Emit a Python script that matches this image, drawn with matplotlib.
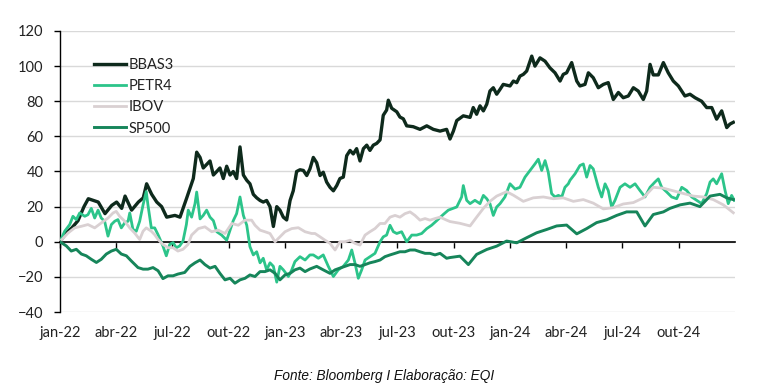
import matplotlib
matplotlib.use("Agg")
import matplotlib.pyplot as plt

# ---------------- data (x = months since Jan-2022, y = % return) ----------------
bbas3_m = [0.00, 0.32, 0.64, 0.96, 1.28, 1.51, 2.04, 2.40, 2.76, 3.02, 3.29, 3.47, 3.82, 4.18, 4.44, 4.62,
           4.89, 5.16, 5.42, 5.69, 6.13, 6.40, 6.76, 7.11, 7.29, 7.47, 7.64, 7.82, 8.00, 8.18, 8.36, 8.53,
           8.71, 8.89, 9.07, 9.24, 9.42, 9.60, 9.78, 9.96, 10.13, 10.31, 10.49, 10.67, 10.84, 11.02, 11.20,
           11.38, 11.56, 11.73, 11.91, 12.09, 12.27, 12.44, 12.62, 12.80, 12.98, 13.16, 13.33, 13.51, 13.69,
           13.87, 14.04, 14.22, 14.40, 14.58, 14.76, 14.93, 15.11, 15.29, 15.47, 15.64, 15.82, 16.00, 16.18,
           16.36, 16.53, 16.71, 16.89, 17.07, 17.24, 17.42, 17.51, 17.69, 17.96, 18.13, 18.31, 18.49, 18.84,
           19.20, 19.56, 19.91, 20.27, 20.62, 20.80, 20.98, 21.16, 21.51, 21.87, 22.04, 22.22, 22.40, 22.58,
           22.76, 22.93, 23.11, 23.29, 23.47, 23.64, 24.00, 24.18, 24.36, 24.53, 24.71, 24.89, 25.16, 25.33,
           25.60, 25.87, 26.13, 26.40, 26.67, 26.84, 27.02, 27.29, 27.56, 27.73, 28.00, 28.18, 28.44, 28.71,
           28.98, 29.24, 29.51, 29.78, 30.04, 30.31, 30.58, 30.84, 31.11, 31.29, 31.47, 31.64, 31.91, 32.18,
           32.44, 32.71, 32.98, 33.33, 33.60, 33.87, 34.22, 34.49, 34.76, 35.02, 35.29, 35.56, 35.73, 35.91]
bbas3 = [0, 5, 8, 12, 20, 24.5, 22.6, 16, 20.7, 22.6, 19, 26, 18, 22.6, 25, 33,
         27, 22.6, 20, 14, 15, 14, 25, 36, 51, 48, 42, 44, 46, 38, 40, 42,
         36, 43, 38, 40, 36, 54, 38, 35, 33, 27, 25, 23.5, 22.6, 23.5, 20,
         8.7, 20, 18, 14, 12.4, 23.5, 29, 40, 41, 40.6, 37.7, 41.5, 48, 45,
         37.7, 39.6, 34, 31, 29, 32, 36, 36.8, 49, 52, 50, 53, 46, 53,
         55, 52, 55, 56, 58, 72, 75, 80.6, 76, 74, 71, 70, 66, 65.5,
         64, 66, 64, 63, 64, 58.5, 63, 69, 71.7, 70.8, 76.4, 72.6, 77.4, 74.5,
         78.3, 85.8, 87.7, 84, 86.8, 89.6, 88.7, 91.5, 90.6, 94.3, 95.3, 97.2, 105.7, 100,
         104.7, 102.8, 99, 96.2, 91.5, 95.3, 96.2, 102, 91.5, 88.7, 89.6, 96.2, 93.4, 87.7,
         89.6, 90.6, 81, 85, 82, 83, 87.7, 85.8, 81, 85.8, 101, 95, 95, 102,
         96.2, 91.5, 88.7, 83, 84, 82, 80, 76.4, 76.4, 69.8, 74.5, 65, 67, 68]

petr4_m = [0.00, 0.25, 0.52, 0.69, 0.87, 1.05, 1.32, 1.49, 1.67, 1.85, 2.03, 2.20, 2.38, 2.56, 2.74, 2.92,
           3.09, 3.27, 3.45, 3.63, 3.72, 3.89, 4.07, 4.25, 4.43, 4.60, 4.69, 4.87, 5.05, 5.23, 5.49, 5.67,
           5.85, 6.03, 6.20, 6.38, 6.56, 6.74, 6.84, 7.02, 7.20, 7.29, 7.47, 7.64, 7.82, 8.00, 8.18, 8.36,
           8.62, 8.89, 9.07, 9.24, 9.42, 9.60, 9.78, 9.96, 10.13, 10.31, 10.49, 10.67, 10.84, 11.02, 11.20,
           11.38, 11.56, 11.73, 11.91, 12.18, 12.36, 12.53, 12.80, 13.07, 13.33, 13.51, 13.78, 14.04, 14.31,
           14.58, 14.84, 15.11, 15.38, 15.56, 15.73, 15.91, 16.09, 16.27, 16.53, 16.80, 17.07, 17.24, 17.42,
           17.60, 17.78, 17.96, 18.22, 18.49, 18.76, 19.02, 19.29, 19.56, 19.82, 20.09, 20.44, 20.71, 21.16,
           21.42, 21.51, 21.69, 21.87, 22.13, 22.40, 22.58, 22.76, 22.93, 23.11, 23.29, 23.47, 23.73, 24.00,
           24.27, 24.53, 24.80, 25.07, 25.33, 25.51, 25.69, 25.87, 26.04, 26.22, 26.40, 26.58, 26.76, 26.93,
           27.11, 27.20, 27.47, 27.73, 27.91, 28.09, 28.27, 28.44, 28.71, 28.89, 29.07, 29.24, 29.42, 29.60,
           29.87, 30.13, 30.40, 30.67, 30.93, 31.20, 31.47, 31.73, 31.91, 32.09, 32.36, 32.62, 32.89, 33.16,
           33.42, 33.69, 33.96, 34.22, 34.49, 34.67, 34.84, 35.02, 35.29, 35.47, 35.64, 35.82, 35.96]
petr4 = [0, 6, 9.8, 14.5, 12.6, 16.4, 14.5, 15.4, 19, 13.5, 18, 13.5, 11.7, 3.2, 9.8, 11.7,
         12.6, 7.9, 10.7, 11.7, 16.4, 7, 6, 11.7, 21, 28.6, 21, 7.9, 7.9, 4, -2.4, -8,
         -1.5, -0.5, -3.4, -2.4, 0.4, 9.8, 18, 14, 21.7, 28.3, 13, 15, 18, 14, 12, 5.7,
         3.8, 0.9, 6.6, 12, 16, 25.5, 15, 9.4, -2.8, -7.5, -5.7, -12, -9.4, -16, -12,
         -14, -23, -14, -16, -19.8, -16, -11.3, -8.5, -10.4, -7.5, -7.5, -9.4, -7.5, -14,
         -19.8, -16, -14, -10.4, -4.7, -12, -20.8, -16, -10.4, -8.5, -6.6, 0, 2.8, 3.8,
         9.4, 5.7, 4.7, 5.7, 0, 3.8, 3.8, 4.7, 7.5, 9.4, 12, 15.5, 18, 19.8,
         25.5, 32, 23.6, 21.7, 23.6, 21.7, 26.4, 24.5, 21.7, 15, 19.8, 21.7, 25.5, 33,
         30, 31, 36.8, 40.6, 44.3, 47, 40.6, 46.2, 39.6, 27.4, 25.5, 26.4, 25.5, 31,
         33, 35, 38.7, 43.4, 44.3, 36.8, 43.4, 41.5, 31, 25.5, 33, 29.2, 19.8, 23.6,
         31, 33, 31, 33, 29.2, 25.5, 31, 34, 35.8, 31, 28.3, 25.5, 24.5, 31,
         29.2, 25.5, 23.6, 21.7, 27.4, 34, 35.8, 33, 38.7, 29.2, 21.7, 26.4, 23.6]

ibov_m = [0.00, 0.43, 0.78, 1.14, 1.49, 1.85, 2.20, 2.56, 2.83, 3.00, 3.18, 3.45, 3.72, 3.98, 4.25, 4.43,
          4.60, 4.87, 5.05, 5.23, 5.49, 5.76, 6.03, 6.29, 6.56, 6.83, 7.02, 7.38, 7.73, 8.09, 8.44, 8.80,
          9.16, 9.51, 9.87, 10.22, 10.40, 10.67, 10.93, 11.20, 11.47, 11.73, 12.00, 12.36, 12.71, 13.07,
          13.42, 13.60, 13.87, 14.13, 14.40, 14.67, 14.93, 15.20, 15.47, 15.73, 16.00, 16.27, 16.53, 16.80,
          17.07, 17.33, 17.60, 17.87, 18.13, 18.40, 18.67, 18.93, 19.20, 19.47, 19.73, 20.00, 20.27, 20.62,
          20.80, 21.33, 21.87, 22.22, 22.58, 22.93, 23.29, 23.82, 24.18, 24.71, 25.24, 25.78, 26.31, 26.84,
          27.38, 27.91, 28.44, 28.98, 29.51, 30.04, 30.58, 31.11, 31.64, 32.18, 32.71, 33.24, 33.78, 34.31,
          34.84, 35.38, 35.91]
ibov = [0, 5, 7.9, 8.8, 9.8, 7.9, 10.7, 13.5, 16.4, 17.3, 14.5, 11.7, 7.9, 5, 1.3, 6,
        7.9, 6, 4, 1.3, -1.5, -3.4, -3.4, -5.3, -4.3, -1.5, 3.8, 7.5, 8.5, 5.7, 6.6, 4.7,
        10.4, 9.4, 12.3, 12.3, 9.4, 6.6, 5.7, 4.7, 0, 2.8, 5.7, 7.5, 8, 5.7,
        4.7, 4.7, 2.8, 0.9, -0.9, -4.7, 0, 0, 0.9, -0.9, -1.9, 3.8, 5.7, 7.5,
        10.4, 10.4, 14, 15, 14, 16, 17, 15, 12.3, 13.2, 12.3, 13.2, 14, 12.3,
        11.5, 10.5, 9, 14, 19, 23, 26, 28.5, 26.5, 23, 25, 25.5, 24.5, 25,
        23, 24, 22, 18.7, 19.4, 21.5, 22.3, 25, 31, 30.5, 29, 27.5, 26, 25.5,
        24, 21, 16.5]

sp500_m = [0.00, 0.34, 0.60, 0.87, 1.14, 1.40, 1.67, 1.94, 2.20, 2.47, 2.74, 3.00, 3.27, 3.54, 3.80, 4.16,
           4.43, 4.69, 4.96, 5.23, 5.49, 5.76, 6.03, 6.29, 6.65, 6.93, 7.20, 7.47, 7.73, 8.00, 8.27, 8.53,
           8.80, 9.07, 9.33, 9.60, 9.87, 10.13, 10.40, 10.67, 10.93, 11.20, 11.47, 11.73, 12.00, 12.27, 12.53,
           12.80, 13.07, 13.33, 13.69, 14.04, 14.40, 14.67, 14.93, 15.20, 15.47, 15.73, 16.00, 16.27, 16.53,
           16.80, 17.07, 17.33, 17.60, 17.87, 18.13, 18.40, 18.67, 18.93, 19.20, 19.47, 19.73, 20.00, 20.27,
           20.62, 20.80, 21.33, 21.78, 22.22, 22.76, 23.29, 23.82, 24.36, 24.89, 25.42, 25.96, 26.49, 27.02,
           27.56, 28.09, 28.62, 29.16, 29.69, 30.22, 30.76, 31.20, 31.64, 32.18, 32.53, 33.07, 33.60, 34.13,
           34.67, 35.20, 35.56, 35.91]
sp500 = [0, -2.4, -5.3, -4.3, -7, -8, -10, -11.8, -10, -7, -5.3, -4.3, -7, -8, -10.9, -14.7,
         -15.6, -15.6, -14.7, -16.5, -21, -19.4, -19.4, -18.4, -17.5, -14, -12, -10.4, -13, -15, -14, -18,
         -21.7, -20.8, -23.6, -21.7, -20.8, -18.9, -19.8, -17, -17, -16, -18, -21.7, -18.9, -18, -16,
         -15, -17, -15.5, -14, -16, -18, -16, -15, -14, -13, -13, -14, -13, -12,
         -11.3, -10.4, -8.5, -7.5, -6.6, -5.7, -5.7, -4.7, -4.7, -5.7, -6.6, -6.6, -7.5, -6.6,
         -9.4, -9, -8.2, -13, -7.2, -4.4, -2.5, 0.4, -0.6, 2.3, 5.1, 7, 9, 9.5,
         4.5, 7.5, 10.9, 12.5, 15, 17, 17, 9, 15.5, 17, 19, 21, 22, 20,
         26, 27, 25, 24]

series_names = ["BBAS3", "PETR4", "IBOV", "SP500"]
x_tick_months = [0, 3, 6, 9, 12, 15, 18, 21, 24, 27, 30, 33]
x_tick_labels = ["jan-22", "abr-22", "jul-22", "out-22", "jan-23", "abr-23", "jul-23",
                 "out-23", "jan-24", "abr-24", "jul-24", "out-24"]
y_ticks = [-40, -20, 0, 20, 40, 60, 80, 100, 120]
source_text = "Fonte: Bloomberg I Elaboração: EQI"

# ---------------- styling ----------------
colors = {"BBAS3": "#0e2a1c", "PETR4": "#2cc48a", "IBOV": "#d9d0d2", "SP500": "#16855a"}
widths = {"BBAS3": 2.4, "PETR4": 2.0, "IBOV": 2.0, "SP500": 2.1}
plt.rcParams["font.family"] = ["Lato", "DejaVu Sans"]

fig = plt.figure(figsize=(7.65, 3.91), dpi=100)
ax = fig.add_axes([60 / 765, 1 - 312 / 391, 675 / 765, 281 / 391])

data = {"BBAS3": (bbas3_m, bbas3), "PETR4": (petr4_m, petr4),
        "IBOV": (ibov_m, ibov), "SP500": (sp500_m, sp500)}
for i, name in enumerate(series_names):
    xm, yv = data[name]
    ax.plot(xm, yv, color=colors[name], lw=widths[name], label=name,
            zorder=3 + i, solid_joinstyle="round")

ax.set_xlim(0, 36)
ax.set_ylim(-40, 120)
ax.set_yticks(y_ticks)
ax.tick_params(axis="y", direction="out", length=4, width=1, color="black",
               labelsize=10.5, pad=8, labelcolor="#222222")
ax.yaxis.grid(True, color="#d9d9d9", lw=1)
ax.set_axisbelow(True)
for s in ["top", "right"]:
    ax.spines[s].set_visible(False)
ax.spines["left"].set_color("black")
ax.spines["left"].set_linewidth(1)

# zero axis line with tick marks
ax.spines["bottom"].set_position(("data", 0))
ax.spines["bottom"].set_color("black")
ax.spines["bottom"].set_linewidth(1.2)
ax.spines["bottom"].set_zorder(2.5)
ax.set_xticks(x_tick_months)
ax.tick_params(axis="x", direction="out", length=4, width=1, color="black", labelbottom=False)

# category labels at the bottom
sec = ax.secondary_xaxis("bottom")
sec.set_xticks(x_tick_months)
sec.set_xticklabels(x_tick_labels)
sec.tick_params(axis="x", length=0, pad=10, labelsize=10.5, labelcolor="#222222")
sec.spines["bottom"].set_visible(False)

leg = ax.legend(loc="upper left", bbox_to_anchor=(0.05, 0.905), frameon=False,
                fontsize=10.5, handlelength=2.2, handletextpad=0.2, labelspacing=0.5,
                borderaxespad=0, borderpad=0)
for t in leg.get_texts():
    t.set_color("#222222")

fig.text(0.502, 0.038, source_text, ha="center", va="center", fontsize=9.8,
         style="italic", family=["Liberation Sans", "DejaVu Sans"], color="#111111")

fig.savefig("out.png", dpi=100)
